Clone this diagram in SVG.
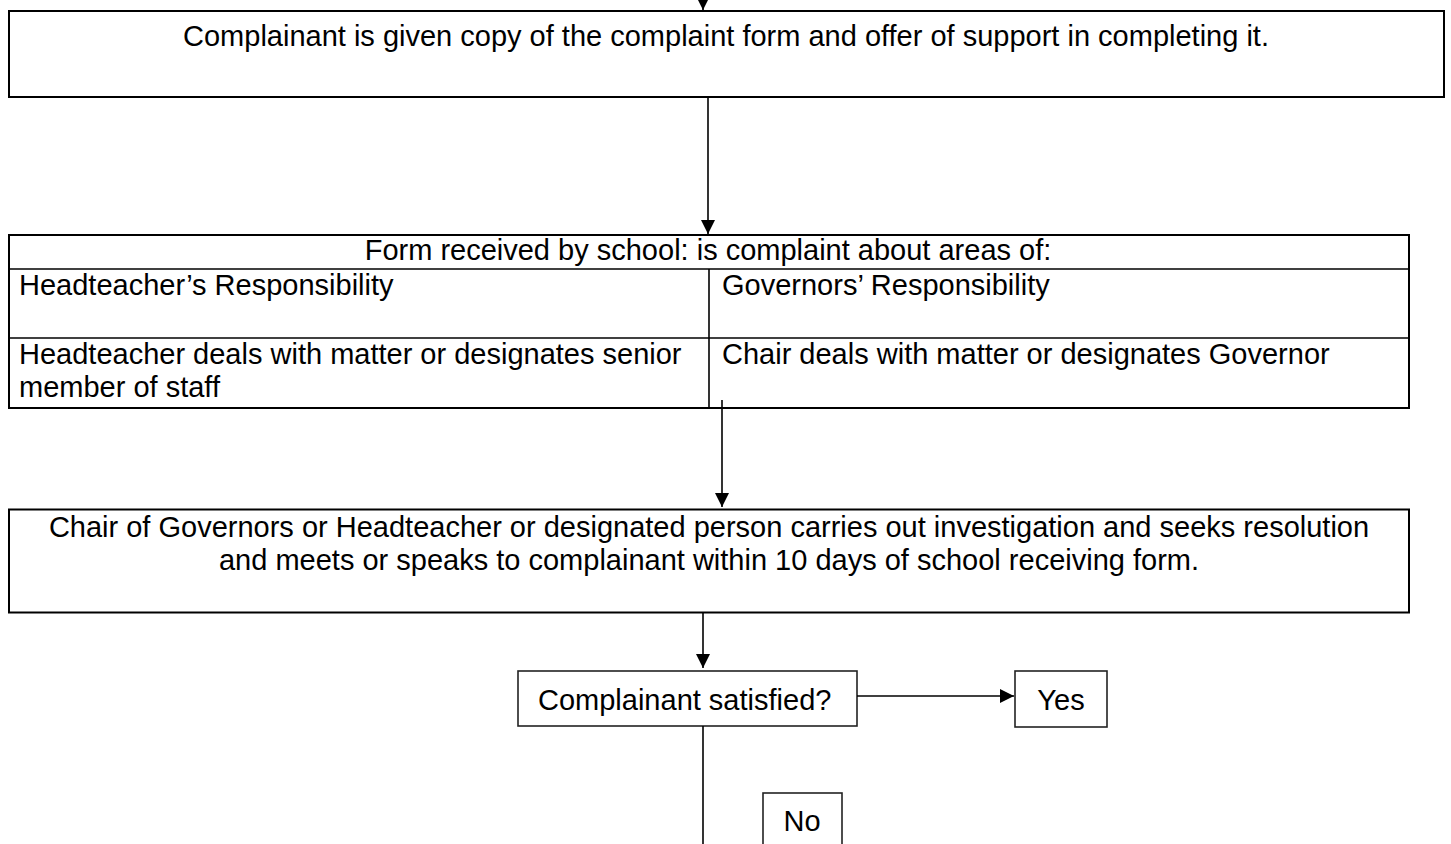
<svg xmlns="http://www.w3.org/2000/svg" width="1451" height="844" viewBox="0 0 1451 844">
<style>
text{font-family:"Liberation Sans",Arial,sans-serif;font-size:29px;fill:#000}
.c{text-anchor:middle}
.box{fill:#fff;stroke:#000;stroke-width:2}
.thin{fill:#fff;stroke:#222;stroke-width:1.6}
.grid{stroke:#000;stroke-width:1.6;fill:none}
.conn{stroke:#000;stroke-width:1.6;fill:none}
</style>
<defs>
<marker id="ah" markerUnits="userSpaceOnUse" markerWidth="15" markerHeight="14" refX="14" refY="7" orient="auto">
<path d="M0,0 L14,7 L0,14 z" fill="#000"/>
</marker>
</defs>
<rect width="1451" height="844" fill="#fff"/>
<g id="n1">
<rect class="box" x="9" y="11" width="1435" height="86"/>
<text class="c" x="726" y="46">Complainant is given copy of the complaint form and offer of support in completing it.</text>
</g>
<g id="n2">
<rect class="box" x="9" y="235" width="1400" height="173"/>
<line class="grid" x1="9" y1="269" x2="1409" y2="269"/>
<line class="grid" x1="9" y1="338" x2="1409" y2="338"/>
<line class="grid" x1="709" y1="269" x2="709" y2="408"/>
<text class="c" x="708" y="260">Form received by school: is complaint about areas of:</text>
<text x="19" y="295">Headteacher’s Responsibility</text>
<text x="722" y="295">Governors’ Responsibility</text>
<text x="19" y="364">Headteacher deals with matter or designates senior</text>
<text x="19" y="397">member of staff</text>
<text x="722" y="364">Chair deals with matter or designates Governor</text>
</g>
<g id="n3">
<rect class="box" x="9" y="509.5" width="1400" height="103"/>
<text class="c" x="709" y="537">Chair of Governors or Headteacher or designated person carries out investigation and seeks resolution</text>
<text class="c" x="709" y="570">and meets or speaks to complainant within 10 days of school receiving form.</text>
</g>
<g id="n4">
<rect class="thin" x="518" y="671" width="339" height="55"/>
<text x="538" y="710">Complainant satisfied?</text>
</g>
<g id="n5">
<rect class="thin" x="1015" y="671" width="92" height="56"/>
<text class="c" x="1061" y="710">Yes</text>
</g>
<g id="n6">
<rect class="thin" x="763" y="793" width="79" height="60"/>
<text class="c" x="802" y="831">No</text>
</g>
<g id="connectors">
<line class="conn" x1="703" y1="-20" x2="703" y2="10" marker-end="url(#ah)"/>
<line class="conn" x1="708" y1="97" x2="708" y2="234" marker-end="url(#ah)"/>
<line class="conn" x1="722" y1="400" x2="722" y2="507" marker-end="url(#ah)"/>
<line class="conn" x1="703" y1="613" x2="703" y2="668" marker-end="url(#ah)"/>
<line class="conn" x1="703" y1="726" x2="703" y2="850"/>
<line class="conn" x1="857" y1="696" x2="1014" y2="696" marker-end="url(#ah)"/>
</g>
</svg>
